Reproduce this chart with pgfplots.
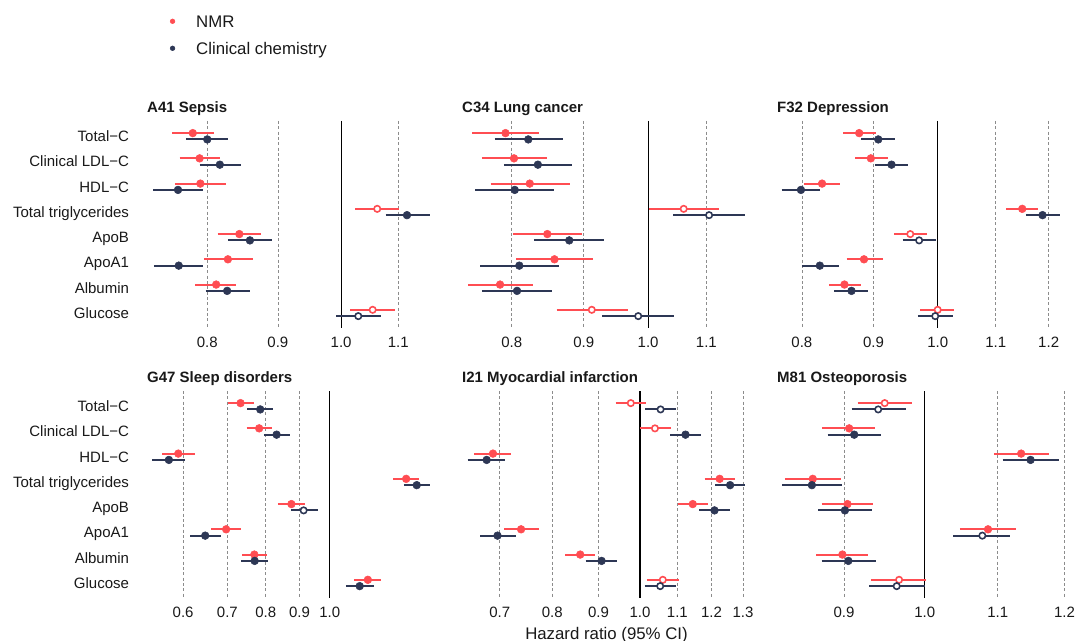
\documentclass[border=0pt]{standalone}
\usepackage{fontspec}
\setmainfont{Liberation Sans}
\usepackage{pgfplots}
\pgfplotsset{compat=1.18}
\definecolor{nmr}{RGB}{255,77,82}
\definecolor{cc}{RGB}{45,55,85}
\newcommand{\tickfont}{\fontsize{11.25pt}{13pt}\selectfont}
\newcommand{\bigfont}{\fontsize{12.6pt}{15pt}\selectfont}
\pgfplotsset{
  hrpanel/.style={
    scale only axis, width=228.75pt, height=155.25pt,
    anchor=north west,
    ymin=0.4, ymax=8.6, y dir=reverse,
    axis line style={draw=none}, major tick length=0pt, minor tick length=0pt,
    ytick={1,2,3,4,5,6,7,8},
    xmajorgrids, ymajorgrids=false,
    major grid style={black!45, line width=0.5pt, dash pattern=on 2.2pt off 1.8pt},
    tick label style={font=\tickfont, text=black!90},
    xticklabel style={anchor=base, inner sep=0pt, yshift=-15pt},
    yticklabel style={anchor=base east, inner sep=0pt, xshift=-7.3pt, yshift=-4.2pt},
    title style={anchor=base west, at={(axis description cs:0.026,1.042)}, yshift=-6pt, inner sep=0pt, font=\bfseries\tickfont, text=black!90},
    unbounded coords=jump,
  },
  nci/.style={nmr, line width=1.4pt, forget plot},
  cci/.style={cc, line width=1.4pt, forget plot},
  nfill/.style={only marks, mark=*, nmr, mark size=2.9pt, forget plot},
  cfill/.style={only marks, mark=*, cc, mark size=2.9pt, forget plot},
  nopen/.style={only marks, mark=*, mark size=2.4pt, mark options={fill=white, draw=nmr, line width=1.2pt}, forget plot},
  copen/.style={only marks, mark=*, mark size=2.4pt, mark options={fill=white, draw=cc, line width=1.2pt}, forget plot},
  refline/.style={black, line width=0.85pt, forget plot},
}
\begin{document}
\begin{tikzpicture}
\useasboundingbox (0,0) rectangle (806.25pt,-480.75pt);
% ---------------- A41 Sepsis
\begin{axis}[xmode=log, hrpanel, at={(104.25pt,-90.75pt)},
  xmin=0.714, xmax=1.187, xtick={0.8,0.9,1,1.1}, xticklabels={0.8,0.9,1.0,1.1},
  yticklabels={Total−C,Clinical LDL−C,HDL−C,Total triglycerides,ApoB,ApoA1,Albumin,Glucose},
  title={A41 Sepsis},
  legend style={draw=none, fill=none, at={(axis description cs:0.1007,1.530)}, anchor=north west,
    inner sep=0pt, row sep=5.65pt, column sep=0pt, font=\bigfont, text=black!90,
    nodes={inner sep=0pt, text height=12pt, text depth=2.6pt}},
  legend cell align=left]
\addlegendimage{legend image code/.code={\fill[nmr] (0pt,0pt) circle (1.75pt); \path (17.5pt,0pt);}}
\addlegendentry{NMR}
\addlegendimage{legend image code/.code={\fill[cc] (0pt,0pt) circle (1.75pt); \path (17.5pt,0pt);}}
\addlegendentry{Clinical chemistry}
\addplot[refline] coordinates {(1,0.4) (1,8.6)};
\addplot[nci] coordinates {(0.755,0.88)(0.809,0.88)(nan,nan)(0.764,1.88)(0.817,1.88)(nan,nan)(0.758,2.88)(0.825,2.88)(nan,nan)(1.024,3.88)(1.101,3.88)(nan,nan)(0.814,4.88)(0.875,4.88)(nan,nan)(0.796,5.88)(0.863,5.88)(nan,nan)(0.784,6.88)(0.840,6.88)(nan,nan)(1.015,7.88)(1.094,7.88)};
\addplot[cci] coordinates {(0.772,1.13)(0.828,1.13)(nan,nan)(0.790,2.13)(0.847,2.13)(nan,nan)(0.731,3.13)(0.795,3.13)(nan,nan)(1.077,4.13)(1.160,4.13)(nan,nan)(0.828,5.13)(0.891,5.13)(nan,nan)(0.732,6.13)(0.795,6.13)(nan,nan)(0.798,7.13)(0.859,7.13)(nan,nan)(0.992,8.13)(1.068,8.13)};
\addplot[nfill] coordinates {(0.781,0.88)(0.790,1.88)(0.791,2.88)(0.844,4.88)(0.828,5.88)(0.812,6.88)};
\addplot[nopen] coordinates {(1.062,3.88)(1.054,7.88)};
\addplot[cfill] coordinates {(0.800,1.13)(0.817,2.13)(0.762,3.13)(1.116,4.13)(0.859,5.13)(0.763,6.13)(0.827,7.13)};
\addplot[copen] coordinates {(1.029,8.13)};
\end{axis}
% ---------------- C34 Lung cancer
\begin{axis}[xmode=log, hrpanel, at={(340.5pt,-90.75pt)},
  xmin=0.728, xmax=1.199, xtick={0.8,0.9,1,1.1}, xticklabels={0.8,0.9,1.0,1.1},
  ytick=\empty, title={C34 Lung cancer}]
\addplot[refline] coordinates {(1,0.4) (1,8.6)};
\addplot[nci] coordinates {(0.750,0.88)(0.837,0.88)(nan,nan)(0.762,1.88)(0.848,1.88)(nan,nan)(0.773,2.88)(0.880,2.88)(nan,nan)(1.001,3.88)(1.123,3.88)(nan,nan)(0.802,4.88)(0.897,4.88)(nan,nan)(0.806,5.88)(0.914,5.88)(nan,nan)(0.745,6.88)(0.828,6.88)(nan,nan)(0.861,7.88)(0.967,7.88)};
\addplot[cci] coordinates {(0.778,1.13)(0.870,1.13)(nan,nan)(0.790,2.13)(0.883,2.13)(nan,nan)(0.754,3.13)(0.858,3.13)(nan,nan)(1.042,4.13)(1.171,4.13)(nan,nan)(0.830,5.13)(0.931,5.13)(nan,nan)(0.760,6.13)(0.864,6.13)(nan,nan)(0.762,7.13)(0.854,7.13)(nan,nan)(0.928,8.13)(1.043,8.13)};
\addplot[nfill] coordinates {(0.792,0.88)(0.803,1.88)(0.824,2.88)(0.848,4.88)(0.858,5.88)(0.785,6.88)};
\addplot[nopen] coordinates {(1.060,3.88)(0.912,7.88)};
\addplot[cfill] coordinates {(0.822,1.13)(0.835,2.13)(0.804,3.13)(0.879,5.13)(0.810,6.13)(0.807,7.13)};
\addplot[copen] coordinates {(1.105,4.13)(0.984,8.13)};
\end{axis}
% ---------------- F32 Depression
\begin{axis}[xmode=log, hrpanel, at={(576.75pt,-90.75pt)},
  xmin=0.758, xmax=1.251, xtick={0.8,0.9,1,1.1,1.2}, xticklabels={0.8,0.9,1.0,1.1,1.2},
  ytick=\empty, title={F32 Depression}]
\addplot[refline] coordinates {(1,0.4) (1,8.6)};
\addplot[nci] coordinates {(0.856,0.88)(0.904,0.88)(nan,nan)(0.873,1.88)(0.921,1.88)(nan,nan)(0.803,2.88)(0.852,2.88)(nan,nan)(1.119,3.88)(1.180,3.88)(nan,nan)(0.931,4.88)(0.982,4.88)(nan,nan)(0.861,5.88)(0.914,5.88)(nan,nan)(0.837,6.88)(0.881,6.88)(nan,nan)(0.972,7.88)(1.028,7.88)};
\addplot[cci] coordinates {(0.882,1.13)(0.933,1.13)(nan,nan)(0.902,2.13)(0.952,2.13)(nan,nan)(0.774,3.13)(0.824,3.13)(nan,nan)(1.156,4.13)(1.222,4.13)(nan,nan)(0.944,5.13)(0.997,5.13)(nan,nan)(0.800,6.13)(0.850,6.13)(nan,nan)(0.844,7.13)(0.892,7.13)(nan,nan)(0.968,8.13)(1.025,8.13)};
\addplot[nfill] coordinates {(0.879,0.88)(0.896,1.88)(0.827,2.88)(1.149,3.88)(0.886,5.88)(0.858,6.88)};
\addplot[nopen] coordinates {(0.956,4.88)(1.000,7.88)};
\addplot[cfill] coordinates {(0.907,1.13)(0.927,2.13)(0.799,3.13)(1.188,4.13)(0.824,6.13)(0.868,7.13)};
\addplot[copen] coordinates {(0.970,5.13)(0.996,8.13)};
\end{axis}
% ---------------- G47 Sleep disorders
\begin{axis}[xmode=log, hrpanel, at={(104.25pt,-293.25pt)},
  xmin=0.5145, xmax=1.489, xtick={0.6,0.7,0.8,0.9,1}, xticklabels={0.6,0.7,0.8,0.9,1.0},
  yticklabels={Total−C,Clinical LDL−C,HDL−C,Total triglycerides,ApoB,ApoA1,Albumin,Glucose},
  title={G47 Sleep disorders}]
\addplot[refline] coordinates {(1,0.4) (1,8.6)};
\addplot[nci] coordinates {(0.702,0.88)(0.767,0.88)(nan,nan)(0.749,1.88)(0.818,1.88)(nan,nan)(0.558,2.88)(0.625,2.88)(nan,nan)(1.248,3.88)(1.364,3.88)(nan,nan)(0.835,4.88)(0.917,4.88)(nan,nan)(0.662,5.88)(0.734,5.88)(nan,nan)(0.737,6.88)(0.803,6.88)(nan,nan)(1.088,7.88)(1.196,7.88)};
\addplot[cci] coordinates {(0.750,1.13)(0.822,1.13)(nan,nan)(0.795,2.13)(0.872,2.13)(nan,nan)(0.539,3.13)(0.604,3.13)(nan,nan)(1.295,4.13)(1.417,4.13)(nan,nan)(0.873,5.13)(0.959,5.13)(nan,nan)(0.615,6.13)(0.684,6.13)(nan,nan)(0.735,7.13)(0.807,7.13)(nan,nan)(1.058,8.13)(1.166,8.13)};
\addplot[nfill] coordinates {(0.733,0.88)(0.782,1.88)(0.590,2.88)(1.305,3.88)(0.875,4.88)(0.697,5.88)(0.769,6.88)(1.142,7.88)};
\addplot[cfill] coordinates {(0.785,1.13)(0.831,2.13)(0.571,3.13)(1.354,4.13)(0.648,6.13)(0.770,7.13)(1.110,8.13)};
\addplot[copen] coordinates {(0.913,5.13)};
\end{axis}
% ---------------- I21 Myocardial infarction
\begin{axis}[xmode=log, hrpanel, at={(340.5pt,-293.25pt)},
  xmin=0.623, xmax=1.354, xtick={0.7,0.8,0.9,1,1.1,1.2,1.3}, xticklabels={0.7,0.8,0.9,1.0,1.1,1.2,1.3},
  ytick=\empty, title={I21 Myocardial infarction},
  xlabel={Hazard ratio (95\% CI)},
  xlabel style={at={(axis description cs:0.5,0)}, anchor=base, yshift=-31pt, inner sep=0pt, font=\bigfont, text=black!90}]
\addplot[refline] coordinates {(1,0.4) (1,8.6)};
\addplot[nci] coordinates {(0.940,0.88)(1.016,0.88)(nan,nan)(1.001,1.88)(1.081,1.88)(nan,nan)(0.656,2.88)(0.721,2.88)(nan,nan)(1.179,3.88)(1.274,3.88)(nan,nan)(1.101,4.88)(1.189,4.88)(nan,nan)(0.708,5.88)(0.774,5.88)(nan,nan)(0.827,6.88)(0.892,6.88)(nan,nan)(1.018,7.88)(1.104,7.88)};
\addplot[cci] coordinates {(1.013,1.13)(1.095,1.13)(nan,nan)(1.080,2.13)(1.167,2.13)(nan,nan)(0.645,3.13)(0.710,3.13)(nan,nan)(1.211,4.13)(1.307,4.13)(nan,nan)(1.163,5.13)(1.257,5.13)(nan,nan)(0.666,6.13)(0.730,6.13)(nan,nan)(0.871,7.13)(0.944,7.13)(nan,nan)(1.012,8.13)(1.095,8.13)};
\addplot[nfill] coordinates {(0.688,2.88)(1.225,3.88)(1.144,4.88)(0.739,5.88)(0.859,6.88)};
\addplot[nopen] coordinates {(0.977,0.88)(1.039,1.88)(1.060,7.88)};
\addplot[cfill] coordinates {(1.123,2.13)(0.677,3.13)(1.258,4.13)(1.209,5.13)(0.696,6.13)(0.907,7.13)};
\addplot[copen] coordinates {(1.054,1.13)(1.053,8.13)};
\end{axis}
% ---------------- M81 Osteoporosis
\begin{axis}[xmode=log, hrpanel, at={(576.75pt,-293.25pt)},
  xmin=0.816, xmax=1.215, xtick={0.9,1,1.1,1.2}, xticklabels={0.9,1.0,1.1,1.2},
  ytick=\empty, title={M81 Osteoporosis}]
\addplot[refline] coordinates {(1,0.4) (1,8.6)};
\addplot[nci] coordinates {(0.916,0.88)(0.983,0.88)(nan,nan)(0.875,1.88)(0.937,1.88)(nan,nan)(1.095,2.88)(1.176,2.88)(nan,nan)(0.833,3.88)(0.896,3.88)(nan,nan)(0.874,4.88)(0.935,4.88)(nan,nan)(1.047,5.88)(1.127,5.88)(nan,nan)(0.868,6.88)(0.929,6.88)(nan,nan)(0.932,7.88)(1.002,7.88)};
\addplot[cci] coordinates {(0.909,1.13)(0.976,1.13)(nan,nan)(0.881,2.13)(0.944,2.13)(nan,nan)(1.107,3.13)(1.192,3.13)(nan,nan)(0.830,4.13)(0.898,4.13)(nan,nan)(0.870,5.13)(0.933,5.13)(nan,nan)(1.038,6.13)(1.118,6.13)(nan,nan)(0.874,7.13)(0.938,7.13)(nan,nan)(0.930,8.13)(1.000,8.13)};
\addplot[nfill] coordinates {(0.906,1.88)(1.134,2.88)(0.864,3.88)(0.904,4.88)(1.086,5.88)(0.898,6.88)};
\addplot[nopen] coordinates {(0.949,0.88)(0.967,7.88)};
\addplot[cfill] coordinates {(0.912,2.13)(1.148,3.13)(0.863,4.13)(0.901,5.13)(0.905,7.13)};
\addplot[copen] coordinates {(0.941,1.13)(1.078,6.13)(0.964,8.13)};
\end{axis}
\end{tikzpicture}
\end{document}
